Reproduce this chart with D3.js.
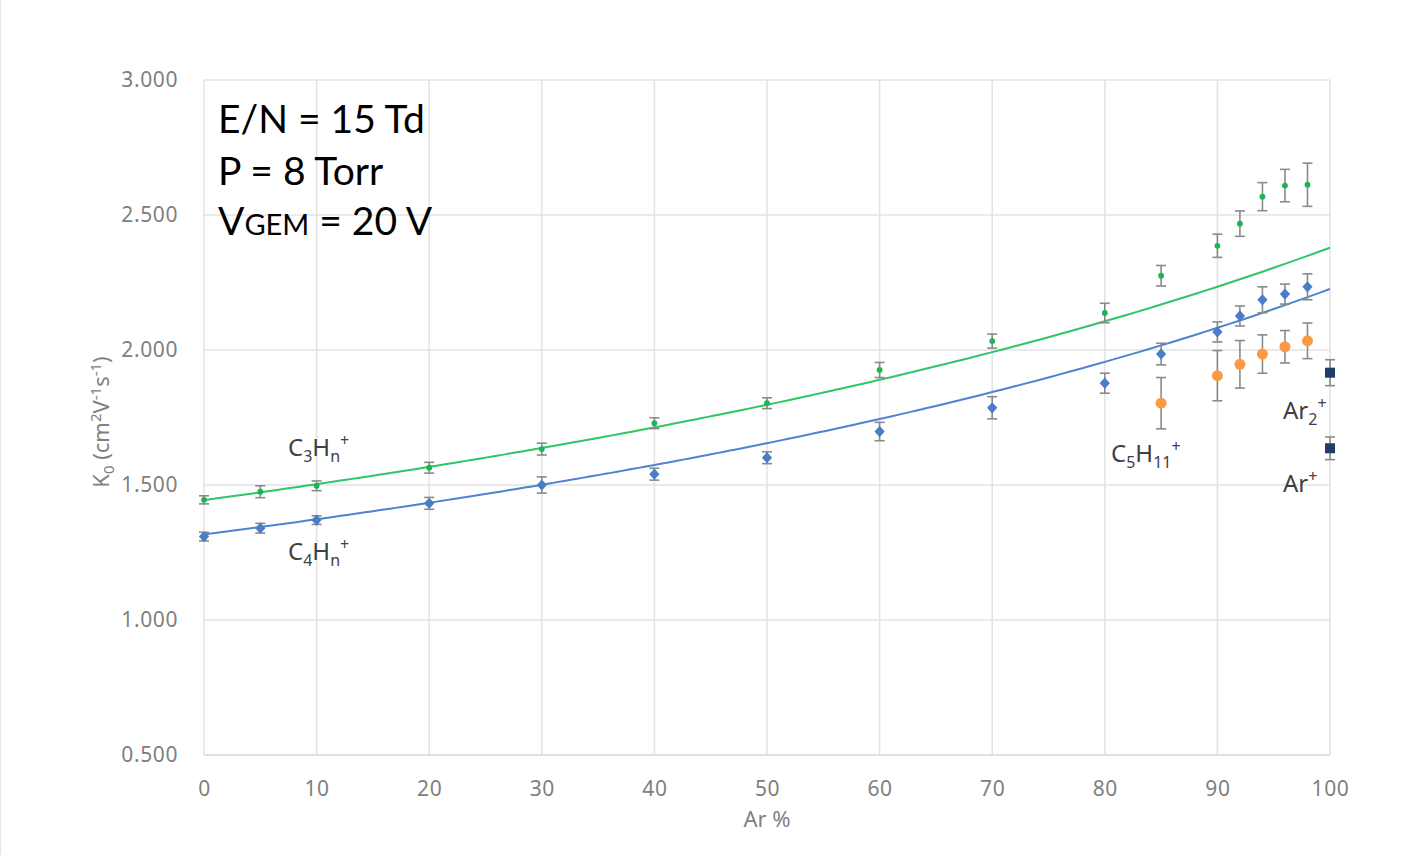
<!DOCTYPE html>
<html>
<head>
<meta charset="utf-8">
<script src="https://cdn.jsdelivr.net/npm/d3@7"></script>
<style>
  body { margin: 0; background: #fff; }
  svg text { font-family: "Noto Sans", sans-serif; }
</style>
</head>
<body>
<script>
// Ar percentage in the mixture
let xC = [0, 5, 10, 20, 30, 40, 50, 60, 70, 80, 85, 90, 92, 94, 96, 98];
// C3Hn+ mobility and error
let c3 = [1.445, 1.475, 1.497, 1.564, 1.633, 1.729, 1.803, 1.926, 2.033, 2.137, 2.275, 2.386, 2.468, 2.568, 2.609, 2.612];
let c3Err = [0.015, 0.022, 0.018, 0.02, 0.022, 0.02, 0.02, 0.028, 0.026, 0.036, 0.038, 0.043, 0.047, 0.052, 0.06, 0.08];
// C4Hn+ mobility and error
let c4 = [1.309, 1.34, 1.37, 1.432, 1.5, 1.54, 1.601, 1.698, 1.786, 1.877, 1.985, 2.067, 2.126, 2.186, 2.207, 2.234];
let c4Err = [0.016, 0.018, 0.016, 0.022, 0.03, 0.022, 0.022, 0.034, 0.041, 0.037, 0.04, 0.037, 0.037, 0.048, 0.037, 0.048];
// C5H11+
let xC5 = [85, 90, 92, 94, 96, 98];
let c5 = [1.803, 1.905, 1.947, 1.985, 2.012, 2.034];
let c5Err = [0.095, 0.093, 0.088, 0.071, 0.06, 0.066];
// pure Ar ions
let arX = [100, 100];
let arK = [1.916, 1.636];
let arErr = [0.048, 0.042];
// Blanc's law end points [K pure gas, K pure Ar]
let blancC3 = [1.444, 2.379];
let blancC4 = [1.317, 2.226];

let xTicks = [0, 10, 20, 30, 40, 50, 60, 70, 80, 90, 100];
let yTicks = [0.5, 1.0, 1.5, 2.0, 2.5, 3.0];

let w = 1423, h = 855;
let svg = d3.select("body").append("svg").attr("width", w).attr("height", h);

// thin frame line at left edge
svg.append("line").attr("x1", 0.5).attr("x2", 0.5).attr("y1", 0).attr("y2", h)
   .attr("stroke", "#e6e6e6");

let x = d3.scaleLinear().domain([0, 100]).range([204, 1330]);
let y = d3.scaleLinear().domain([0.5, 3]).range([755, 80]);

// grid
svg.append("g").selectAll("line").data(xTicks).enter().append("line")
   .attr("x1", d => x(d)).attr("x2", d => x(d))
   .attr("y1", y(3)).attr("y2", y(0.5))
   .attr("stroke", "#e3e3e3").attr("stroke-width", 1.5);
svg.append("g").selectAll("line").data(yTicks).enter().append("line")
   .attr("x1", x(0)).attr("x2", x(100))
   .attr("y1", d => y(d)).attr("y2", d => y(d))
   .attr("stroke", d => d == 0.5 ? "#d6d6d6" : "#e3e3e3").attr("stroke-width", 1.5);

// axes (labels only)
let xAxis = svg.append("g").attr("transform", `translate(0,${y(0.5)})`)
   .call(d3.axisBottom(x).tickValues(xTicks).tickSize(0).tickPadding(26));
let yAxis = svg.append("g").attr("transform", `translate(${x(0)},0)`)
   .call(d3.axisLeft(y).tickValues(yTicks).tickSize(0).tickPadding(26).tickFormat(d3.format(".3f")));
[xAxis, yAxis].forEach(a => {
  a.select(".domain").remove();
  a.selectAll("text").attr("font-size", 21).attr("fill", "#808080")
   .attr("letter-spacing", 0.6).attr("font-family", "Noto Sans, sans-serif");
});

svg.append("text").attr("x", x(50)).attr("y", 827).attr("text-anchor", "middle")
   .attr("font-size", 22).attr("fill", "#808080").text("Ar %");

let yt = svg.append("text").attr("transform", "translate(109,422) rotate(-90)")
   .attr("text-anchor", "middle").attr("font-size", 22).attr("fill", "#808080");
yt.append("tspan").text("K");
yt.append("tspan").attr("font-size", 15).attr("dy", 5).text("0");
yt.append("tspan").attr("dy", -5).text(" (cm");
yt.append("tspan").attr("font-size", 15).attr("dy", -8).text("2");
yt.append("tspan").attr("dy", 8).text("V");
yt.append("tspan").attr("font-size", 15).attr("dy", -8).text("-1");
yt.append("tspan").attr("dy", 8).text("s");
yt.append("tspan").attr("font-size", 15).attr("dy", -8).text("-1");
yt.append("tspan").attr("dy", 8).text(")");

// Blanc's law curves
function blanc(ends) {
  return d3.range(0, 100.01, 1).map(p => [p, 1 / ((p / 100) / ends[1] + (1 - p / 100) / ends[0])]);
}
let line = d3.line().x(d => x(d[0])).y(d => y(d[1])).curve(d3.curveMonotoneX);
svg.append("path").attr("d", line(blanc(blancC3))).attr("fill", "none")
   .attr("stroke", "#2fc665").attr("stroke-width", 2);
svg.append("path").attr("d", line(blanc(blancC4))).attr("fill", "none")
   .attr("stroke", "#4f83d1").attr("stroke-width", 2);

// error bars
function errBars(xs, vs, es) {
  let g = svg.append("g").attr("stroke", "#8a8a8a").attr("stroke-width", 1.6).attr("fill", "none");
  xs.forEach((xv, i) => {
    let cx = x(xv), t = y(vs[i] + es[i]), b = y(vs[i] - es[i]);
    g.append("line").attr("x1", cx).attr("x2", cx).attr("y1", t).attr("y2", b);
    g.append("line").attr("x1", cx - 5).attr("x2", cx + 5).attr("y1", t).attr("y2", t);
    g.append("line").attr("x1", cx - 5).attr("x2", cx + 5).attr("y1", b).attr("y2", b);
  });
}
errBars(xC, c3, c3Err);
errBars(xC, c4, c4Err);
errBars(xC5, c5, c5Err);
errBars(arX, arK, arErr);

// markers
svg.append("g").selectAll("path").data(xC).enter().append("path")
   .attr("d", d3.symbol(d3.symbolSquare, 52))
   .attr("transform", (d, i) => `translate(${x(d)},${y(c4[i])}) scale(1,1.1) rotate(45)`)
   .attr("fill", "#4a7cc9");
svg.append("g").selectAll("circle").data(xC).enter().append("circle")
   .attr("cx", d => x(d)).attr("cy", (d, i) => y(c3[i])).attr("r", 2.9)
   .attr("fill", "#1bb553");
svg.append("g").selectAll("circle").data(xC5).enter().append("circle")
   .attr("cx", d => x(d)).attr("cy", (d, i) => y(c5[i])).attr("r", 5.5)
   .attr("fill", "#fa9a44");
svg.append("g").selectAll("rect").data(arX).enter().append("rect")
   .attr("x", d => x(d) - 5).attr("y", (d, i) => y(arK[i]) - 5)
   .attr("width", 10).attr("height", 10).attr("fill", "#1f3d66");

// species labels: parts are [text, baseline offset]
function ionLabel(px, py, parts) {
  let t = svg.append("text").attr("x", px).attr("y", py).attr("font-size", 24).attr("fill", "#404040");
  let cur = 0;
  parts.forEach(p => {
    let off = p[1] || 0;
    t.append("tspan").attr("font-size", off ? 16 : 24).attr("dy", off - cur).text(p[0]);
    cur = off;
  });
}
ionLabel(288, 456, [["C"], ["3", 6], ["H"], ["n", 6], ["+", -10]]);
ionLabel(288, 560, [["C"], ["4", 6], ["H"], ["n", 6], ["+", -10]]);
ionLabel(1111, 462, [["C"], ["5", 6], ["H"], ["11", 6], ["+", -10]]);
ionLabel(1283, 419, [["Ar"], ["2", 6], ["+", -10]]);
ionLabel(1283, 492, [["Ar"], ["+", -10]]);

// condition box
let box = svg.append("g").attr("fill", "#000");
box.append("text").attr("x", 218).attr("y", 133).attr("font-size", 39)
   .style("font-family", "Lato, sans-serif").text("E/N = 15 Td");
box.append("text").attr("x", 218).attr("y", 185).attr("font-size", 39)
   .style("font-family", "Lato, sans-serif").text("P = 8 Torr");
let vg = box.append("text").attr("x", 218).attr("y", 235).attr("font-size", 39)
   .style("font-family", "Lato, sans-serif");
vg.append("tspan").text("V");
vg.append("tspan").attr("font-size", 29).text("GEM");
vg.append("tspan").text(" = 20 V");
</script>
</body>
</html>
